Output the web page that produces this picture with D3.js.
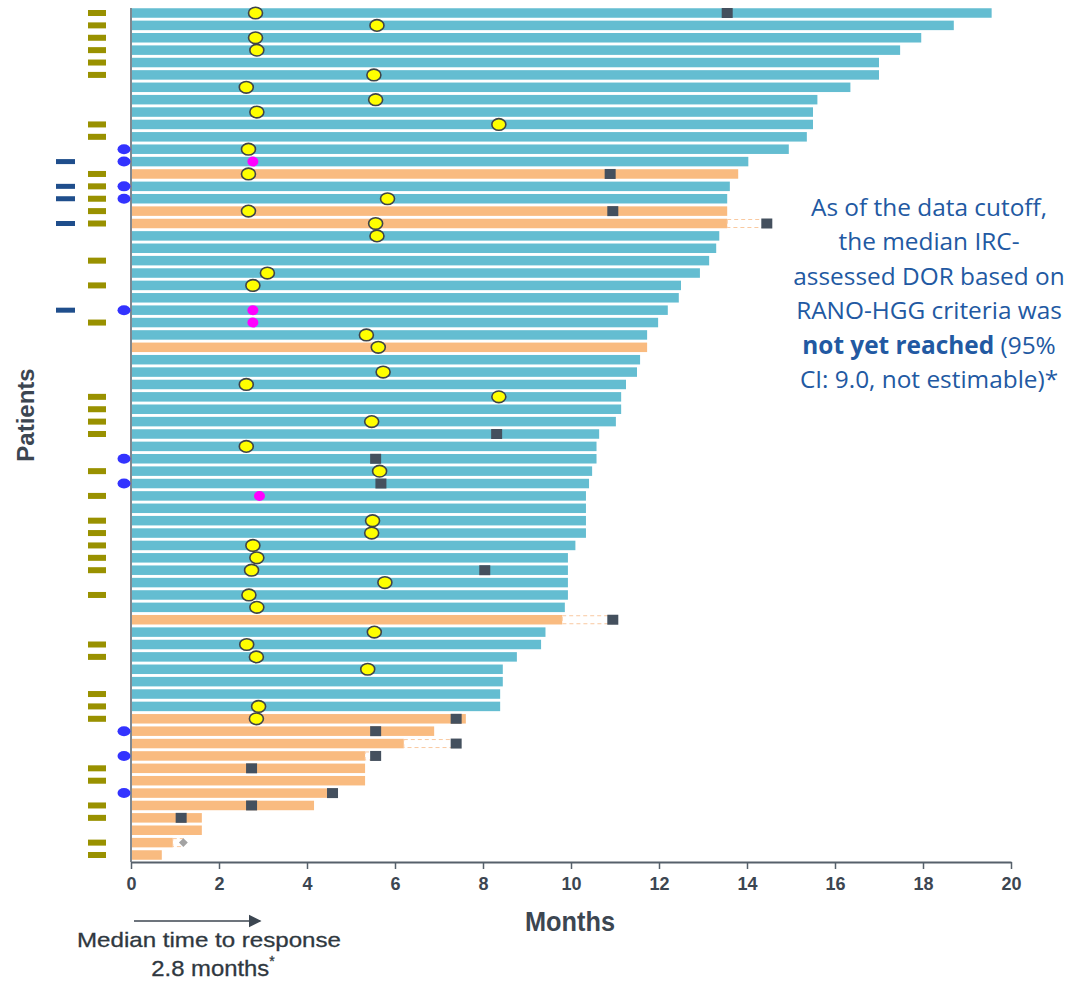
<!DOCTYPE html>
<html>
<head>
<meta charset="utf-8">
<script src="https://cdn.jsdelivr.net/npm/d3@7"></script>
<style>
  html, body { margin: 0; padding: 0; background: #fff; }
  svg { display: block; }
</style>
</head>
<body>
<svg id="chart" width="1069" height="982"></svg>
<script>
// Duration of response (months) for each patient, top to bottom
const durations = [
  19.56, 18.7, 17.96, 17.48, 17.0, 17.0, 16.35, 15.6, 15.5, 15.5,
  15.36, 14.95, 14.03, 13.8, 13.61, 13.55, 13.55, 13.55, 13.37, 13.3,
  13.14, 12.93, 12.5, 12.45, 12.2, 11.98, 11.73, 11.73, 11.57, 11.5,
  11.25, 11.14, 11.14, 11.02, 10.64, 10.58, 10.58, 10.48, 10.41, 10.34,
  10.34, 10.34, 10.34, 10.1, 9.93, 9.93, 9.93, 9.93, 9.86, 9.8,
  9.42, 9.32, 8.77, 8.45, 8.45, 8.39, 8.39, 7.61, 6.89, 6.2,
  5.32, 5.32, 5.32, 4.48, 4.16, 1.61, 1.61, 0.95, 0.70
];
// Patients whose response has ended (1-based row numbers)
const endedRows = [14, 17, 18, 28, 50, 58, 59, 60, 61, 62, 63, 64, 65, 66, 67, 68, 69];

// Response events: [row, month]
const firstResponse = [
  [1, 2.83], [2, 5.59], [3, 2.83], [4, 2.86], [6, 5.52], [7, 2.62], [8, 5.56], [9, 2.86],
  [10, 8.36], [12, 2.67], [14, 2.67], [16, 5.83], [17, 2.67], [18, 5.56], [19, 5.59],
  [22, 3.1], [23, 2.77], [27, 5.35], [28, 5.62], [30, 5.73], [31, 2.62], [32, 8.36],
  [34, 5.47], [36, 2.62], [38, 5.65], [42, 5.49], [43, 5.47], [44, 2.77], [45, 2.86],
  [46, 2.74], [47, 5.77], [48, 2.68], [49, 2.86], [51, 5.53], [52, 2.63], [53, 2.85],
  [54, 5.38], [57, 2.9], [58, 2.85]
];
const otherResponse = [[13, 2.77], [25, 2.77], [26, 2.77], [40, 2.92]];
const progression = [
  [1, 13.55], [14, 10.89], [17, 10.95], [18, 14.45], [35, 8.31], [37, 5.56], [39, 5.68],
  [46, 8.04], [50, 10.95], [58, 7.39], [59, 5.56], [60, 7.39], [61, 5.56], [62, 2.74],
  [64, 4.58], [65, 2.74], [66, 1.14]
];
const deaths = [[68, 1.19]];

// Baseline characteristics flags (1-based rows)
const flagA = [1, 2, 3, 4, 5, 6, 10, 11, 14, 15, 16, 17, 18, 21, 23, 26, 32, 33, 34, 35,
  38, 40, 42, 43, 44, 45, 46, 48, 52, 53, 56, 57, 58, 62, 63, 65, 66, 68, 69];
const flagB = [12, 13, 15, 16, 25, 37, 39, 59, 61, 64];
const flagC = [13, 15, 16, 18, 25];

const xTicks = [0, 2, 4, 6, 8, 10, 12, 14, 16, 18, 20];

const noteLines = [
  [{ t: "As of the data cutoff," }],
  [{ t: "the median IRC-" }],
  [{ t: "assessed DOR based on" }],
  [{ t: "RANO-HGG criteria was" }],
  [{ t: "not yet reached", b: true }, { t: " (95%" }],
  [{ t: "CI: 9.0, not estimable)*" }]
];

// ---------------------------------------------------------------
const svg = d3.select("#chart");
const rows = d3.range(1, durations.length + 1);
const x = d3.scaleLinear().domain([0, 20]).range([131, 1011]);
const y = d3.scalePoint().domain(rows).range([13, 855]);
const barH = 9.5;

const C = {
  ongoing: "#64bdd1", ended: "#f9bb80", axis: "#56606b", text: "#3c4651",
  yellow: "#ffff00", magenta: "#ff00ff", square: "#44505e", diamond: "#a3a3a3",
  flagA: "#999100", flagB: "#3333ff", flagC: "#1f4e8c", note: "#2259a2"
};
const ended = new Set(endedRows);

// Bars
svg.append("g").selectAll("rect")
  .data(rows)
  .join("rect")
  .attr("x", x(0) + 1)
  .attr("y", r => y(r) - barH / 2)
  .attr("width", r => x(durations[r - 1]) - x(0) - 1)
  .attr("height", barH)
  .attr("fill", r => ended.has(r) ? C.ended : C.ongoing);

// Dashed extensions where an event lies beyond the end of a bar
const beyond = progression.concat(deaths).filter(([r, m]) => m > durations[r - 1]);
svg.append("g").selectAll("rect")
  .data(beyond)
  .join("rect")
  .attr("x", d => x(durations[d[0] - 1]))
  .attr("y", d => y(d[0]) - 4)
  .attr("width", d => x(d[1]) - x(durations[d[0] - 1]))
  .attr("height", 8)
  .attr("fill", "none")
  .attr("stroke", "#f9c9a0")
  .attr("stroke-width", 1)
  .attr("stroke-dasharray", "4,3");

// Axes lines
svg.append("line")
  .attr("x1", x(0)).attr("x2", x(0))
  .attr("y1", 8).attr("y2", 862)
  .attr("stroke", C.axis).attr("stroke-width", 1.5);

const xAxis = svg.append("g")
  .attr("transform", "translate(0,862)")
  .call(d3.axisBottom(x).tickValues(xTicks).tickSize(7).tickSizeOuter(0).tickPadding(8));
xAxis.select(".domain").attr("stroke", C.axis).attr("stroke-width", 2);
xAxis.selectAll(".tick line").attr("stroke", C.axis).attr("stroke-width", 1.5);
xAxis.selectAll(".tick text")
  .attr("fill", C.text)
  .attr("font-family", "'Liberation Sans', Arial, sans-serif")
  .attr("font-weight", "bold")
  .attr("font-size", 18);

// Progression markers
svg.append("g").selectAll("rect")
  .data(progression)
  .join("rect")
  .attr("x", d => x(d[1]) - 5.5)
  .attr("y", d => y(d[0]) - 5)
  .attr("width", 11)
  .attr("height", 10)
  .attr("fill", C.square);

// Death marker
svg.append("g").selectAll("path")
  .data(deaths)
  .join("path")
  .attr("transform", d => `translate(${x(d[1])},${y(d[0])})`)
  .attr("d", d3.symbol(d3.symbolDiamond2, 50))
  .attr("fill", C.diamond);

// Response markers
svg.append("g").selectAll("ellipse")
  .data(firstResponse)
  .join("ellipse")
  .attr("cx", d => x(d[1]))
  .attr("cy", d => y(d[0]))
  .attr("rx", 7).attr("ry", 5.8)
  .attr("fill", C.yellow)
  .attr("stroke", "#3f4448").attr("stroke-width", 1.6);

svg.append("g").selectAll("ellipse")
  .data(otherResponse)
  .join("ellipse")
  .attr("cx", d => x(d[1]))
  .attr("cy", d => y(d[0]))
  .attr("rx", 5.5).attr("ry", 5)
  .attr("fill", C.magenta);

// Flags at the left
svg.append("g").selectAll("rect")
  .data(flagA)
  .join("rect")
  .attr("x", 88).attr("y", r => y(r) - 3)
  .attr("width", 18).attr("height", 6)
  .attr("fill", C.flagA);

svg.append("g").selectAll("ellipse")
  .data(flagB)
  .join("ellipse")
  .attr("cx", 124).attr("cy", r => y(r))
  .attr("rx", 6.5).attr("ry", 5)
  .attr("fill", C.flagB);

svg.append("g").selectAll("rect")
  .data(flagC)
  .join("rect")
  .attr("x", 56).attr("y", r => y(r) - 2.5)
  .attr("width", 19).attr("height", 5)
  .attr("fill", C.flagC);

// Axis titles
svg.append("text")
  .attr("x", 570).attr("y", 931)
  .attr("text-anchor", "middle")
  .attr("font-family", "'Liberation Sans', Arial, sans-serif")
  .attr("font-weight", "bold").attr("font-size", 27)
  .attr("textLength", 90).attr("lengthAdjust", "spacingAndGlyphs")
  .attr("fill", C.text)
  .text("Months");

svg.append("text")
  .attr("transform", "translate(34,415) rotate(-90)")
  .attr("text-anchor", "middle")
  .attr("font-family", "'Liberation Sans', Arial, sans-serif")
  .attr("font-weight", "bold").attr("font-size", 24)
  .attr("fill", C.text)
  .text("Patients");

// Median time to response arrow
const medianTTR = 2.8;
svg.append("defs").append("marker")
  .attr("id", "arrowhead")
  .attr("viewBox", "0 0 10 10")
  .attr("refX", 9).attr("refY", 5)
  .attr("markerWidth", 13).attr("markerHeight", 14)
  .attr("markerUnits", "userSpaceOnUse")
  .attr("orient", "auto")
  .append("path").attr("d", "M0,0L10,5L0,10Z").attr("fill", C.text);
svg.append("line")
  .attr("x1", x(0) + 3).attr("x2", x(medianTTR) + 6)
  .attr("y1", 921).attr("y2", 921)
  .attr("stroke", C.text).attr("stroke-width", 1.6)
  .attr("marker-end", "url(#arrowhead)");

svg.append("text")
  .attr("x", 209).attr("y", 947)
  .attr("text-anchor", "middle")
  .attr("font-family", "'Liberation Sans', Arial, sans-serif")
  .attr("font-size", 21)
  .attr("textLength", 264).attr("lengthAdjust", "spacingAndGlyphs")
  .attr("fill", "#2f3840")
  .attr("stroke", "#2f3840").attr("stroke-width", 0.3)
  .text("Median time to response");

const ttr = svg.append("text")
  .attr("x", 213).attr("y", 976)
  .attr("text-anchor", "middle")
  .attr("font-family", "'Liberation Sans', Arial, sans-serif")
  .attr("font-size", 22)
  .attr("fill", "#2f3840")
  .attr("stroke", "#2f3840").attr("stroke-width", 0.3);
ttr.append("tspan").attr("textLength", 118).attr("lengthAdjust", "spacingAndGlyphs")
  .text(`${medianTTR} months`);
ttr.append("tspan").attr("font-size", 14).attr("dy", -10).text("*");

// Note on the right
const note = svg.append("text")
  .attr("font-family", "'Open Sans', Lato, sans-serif")
  .attr("font-size", 24.4)
  .attr("fill", C.note)
  .attr("text-anchor", "middle");
noteLines.forEach((parts, i) => {
  const line = note.append("tspan").attr("x", 929).attr("y", 216 + i * 34.4);
  parts.forEach(p => {
    line.append("tspan").attr("font-weight", p.b ? "bold" : null).text(p.t);
  });
});
</script>
</body>
</html>
